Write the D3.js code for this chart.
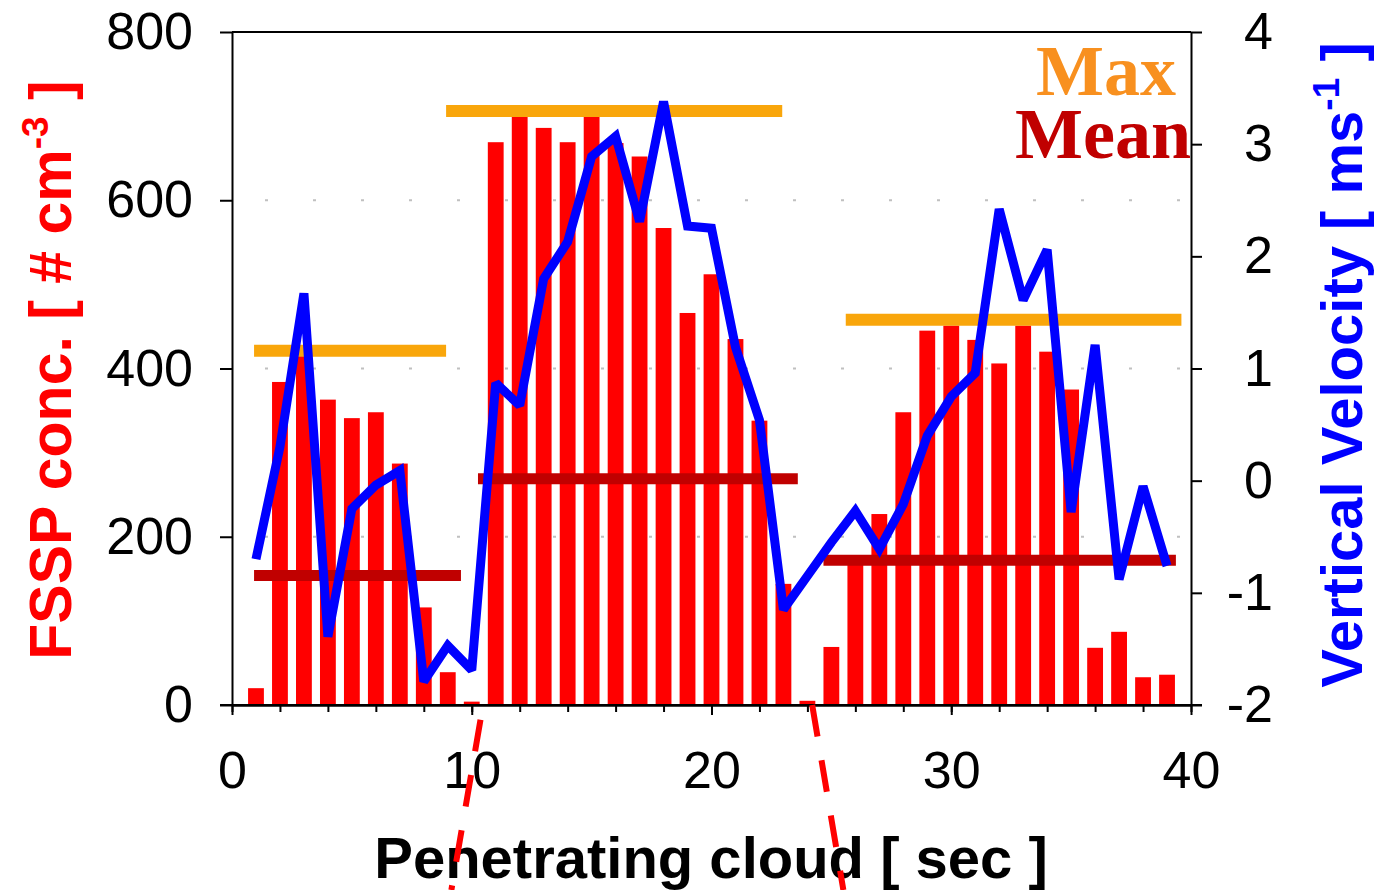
<!DOCTYPE html>
<html>
<head>
<meta charset="utf-8">
<script src="https://cdn.jsdelivr.net/npm/d3@7"></script>
<style>
body { margin: 0; background: #fff; }
svg { display: block; }
</style>
</head>
<body>
<svg id="chart" width="1375" height="890"></svg>
<script>
// seconds into the cloud
const seconds = [1, 2, 3, 4, 5, 6, 7, 8, 9, 10, 11, 12, 13, 14, 15, 16, 17, 18, 19, 20,
  21, 22, 23, 24, 25, 26, 27, 28, 29, 30, 31, 32, 33, 34, 35, 36, 37, 38, 39];

// FSSP concentration (# cm-3), bars
const fssp = [20, 384, 418, 363, 341, 348, 287, 116, 39, 4, 669, 700, 686, 669, 700, 668, 652, 567, 466, 512,
  435, 338, 144, 5, 69, 174, 227, 348, 445, 451, 434, 406, 451, 420, 375, 68, 87, 33, 36];

// vertical velocity (m/s), line
const velocity = [-0.70, 0.30, 1.67, -1.39, -0.25, -0.04, 0.09, -1.79, -1.47, -1.69, 0.87, 0.67, 1.80, 2.13, 2.89, 3.07, 2.31, 3.38, 2.27, 2.25,
  1.19, 0.54, -1.15, -0.85, -0.55, -0.27, -0.61, -0.21, 0.40, 0.75, 0.96, 2.42, 1.61, 2.06, -0.28, 1.21, -0.88, -0.05, -0.76];

// max / mean per cloud section
const maxValue = [421, 706, 458];
const maxFrom = [0.92, 8.93, 25.6];
const maxTo = [8.93, 22.95, 39.6];
const meanValue = [154, 269, 172];
const meanFrom = [0.92, 10.26, 24.67];
const meanTo = [9.55, 23.6, 39.37];

// dashed connectors (seconds at the axis, seconds at the bottom edge)
const linkTop = [10.47, 24.2];
const linkBottom = [9.15, 25.5];

const leftTicks = [0, 200, 400, 600, 800];
const gridTicks = [200, 400, 600];
const rightTicks = [-2, -1, 0, 1, 2, 3, 4];
const xMajor = [0, 10, 20, 30, 40];
const xMinor = [0, 2, 4, 6, 8, 10, 12, 14, 16, 18, 20, 22, 24, 26, 28, 30, 32, 34, 36, 38, 40];

const W = 1375, H = 890;
const margin = { top: 32, right: 184, bottom: 185, left: 232 };
const width = W - margin.left - margin.right;
const height = H - margin.top - margin.bottom;

const svg = d3.select("#chart");
const g = svg.append("g").attr("transform", `translate(${margin.left},${margin.top})`);

const x = d3.scaleLinear().domain([0, 40]).range([0, width]);
const yL = d3.scaleLinear().domain([0, 800]).range([height, 0]);
const yR = d3.scaleLinear().domain([-2, 4]).range([height, 0]);

// dotted grid
g.selectAll(".grid")
  .data(gridTicks)
  .enter()
  .append("line")
  .attr("x1", 0)
  .attr("x2", width)
  .attr("y1", d => yL(d))
  .attr("y2", d => yL(d))
  .attr("stroke", "#c0c0c0")
  .attr("stroke-width", 2)
  .attr("stroke-dasharray", "3,45")
  .attr("stroke-dashoffset", 15);

// bars
const barW = x(1) - x(0);
g.selectAll(".bar")
  .data(seconds)
  .enter()
  .append("rect")
  .attr("x", d => x(d) - barW * 0.33)
  .attr("y", (d, i) => yL(fssp[i]))
  .attr("width", barW * 0.66)
  .attr("height", (d, i) => height - yL(fssp[i]))
  .attr("fill", "#ff0000");

// max lines
g.selectAll(".maxline")
  .data(maxValue)
  .enter()
  .append("line")
  .attr("x1", (d, i) => x(maxFrom[i]))
  .attr("x2", (d, i) => x(maxTo[i]))
  .attr("y1", d => yL(d))
  .attr("y2", d => yL(d))
  .attr("stroke", "#f9a60b")
  .attr("stroke-width", 12);

// mean lines
g.selectAll(".meanline")
  .data(meanValue)
  .enter()
  .append("line")
  .attr("x1", (d, i) => x(meanFrom[i]))
  .attr("x2", (d, i) => x(meanTo[i]))
  .attr("y1", d => yL(d))
  .attr("y2", d => yL(d))
  .attr("stroke", "#c00000")
  .attr("stroke-width", 11);

// velocity line
const line = d3.line()
  .x((d, i) => x(seconds[i]))
  .y(d => yR(d));

g.append("path")
  .datum(velocity)
  .attr("d", line)
  .attr("fill", "none")
  .attr("stroke", "#0000ff")
  .attr("stroke-width", 9)
  .attr("stroke-linejoin", "miter")
  .attr("stroke-miterlimit", 2);

// frame top
g.append("line")
  .attr("x1", 0).attr("x2", width)
  .attr("y1", 0).attr("y2", 0)
  .attr("stroke", "#000").attr("stroke-width", 2);

// axes
const tickFont = "'Liberation Sans', Arial, sans-serif";
const plainNum = d => String(d);

const leftAxis = g.append("g")
  .call(d3.axisLeft(yL).tickValues(leftTicks).tickSize(12).tickSizeOuter(0).tickPadding(27).tickFormat(plainNum));

const rightAxis = g.append("g")
  .attr("transform", `translate(${width},0)`)
  .call(d3.axisRight(yR).tickValues(rightTicks).tickSize(11).tickSizeOuter(0).tickPadding(10).tickFormat(plainNum));
rightAxis.selectAll("text")
  .attr("text-anchor", "end")
  .attr("x", 82);

const minorAxis = g.append("g")
  .attr("transform", `translate(0,${height})`)
  .call(d3.axisBottom(x).tickValues(xMinor).tickSize(7).tickSizeOuter(0).tickFormat(""));

const bottomAxis = g.append("g")
  .attr("transform", `translate(0,${height})`)
  .call(d3.axisBottom(x).tickValues(xMajor).tickSize(10).tickSizeOuter(0).tickPadding(36).tickFormat(plainNum));

// extend bottom line to the outer ticks
g.append("line")
  .attr("x1", -12).attr("x2", width + 11)
  .attr("y1", height).attr("y2", height)
  .attr("stroke", "#000").attr("stroke-width", 2);

[leftAxis, rightAxis, minorAxis, bottomAxis].forEach(a => {
  a.selectAll("path.domain").attr("stroke", "#000").attr("stroke-width", 2);
  a.selectAll("line").attr("stroke", "#000").attr("stroke-width", 2);
  a.selectAll("text")
    .attr("fill", "#000")
    .style("font-family", tickFont)
    .style("font-size", "52px");
});

// axis titles
const leftTitle = svg.append("text")
  .attr("transform", "translate(71,370) rotate(-90)")
  .attr("text-anchor", "middle")
  .style("font-family", tickFont)
  .style("font-weight", "bold")
  .style("font-size", "59px")
  .attr("fill", "#ff0000");
leftTitle.append("tspan").text("FSSP conc. [ # cm");
leftTitle.append("tspan").attr("dy", -23).style("font-size", "37px").text("-3");
leftTitle.append("tspan").attr("dy", 23).text(" ]");

const rightTitle = svg.append("text")
  .attr("transform", "translate(1362,365) rotate(-90)")
  .attr("text-anchor", "middle")
  .style("font-family", tickFont)
  .style("font-weight", "bold")
  .style("font-size", "58px")
  .attr("fill", "#0000ff");
rightTitle.append("tspan").text("Vertical Velocity [ ms");
rightTitle.append("tspan").attr("dy", -23).style("font-size", "37px").text("-1");
rightTitle.append("tspan").attr("dy", 23).text(" ]");

svg.append("text")
  .attr("x", 711)
  .attr("y", 878)
  .attr("text-anchor", "middle")
  .style("font-family", tickFont)
  .style("font-weight", "bold")
  .style("font-size", "58px")
  .attr("fill", "#000")
  .text("Penetrating cloud [ sec ]");

// legend words
svg.append("text")
  .attr("x", 1176)
  .attr("y", 95)
  .attr("text-anchor", "end")
  .style("font-family", "'Liberation Serif', 'Times New Roman', serif")
  .style("font-weight", "bold")
  .style("font-size", "72px")
  .attr("fill", "#f8901f")
  .text("Max");

svg.append("text")
  .attr("x", 1191)
  .attr("y", 158)
  .attr("text-anchor", "end")
  .style("font-family", "'Liberation Serif', 'Times New Roman', serif")
  .style("font-weight", "bold")
  .style("font-size", "72px")
  .attr("fill", "#c00000")
  .text("Mean");

// dashed connectors to the panel below
const offsets = [41, 0];
svg.selectAll(".link")
  .data(linkTop)
  .enter()
  .append("line")
  .attr("x1", d => margin.left + x(d))
  .attr("y1", margin.top + yL(0))
  .attr("x2", (d, i) => margin.left + x(linkBottom[i]))
  .attr("y2", H)
  .attr("stroke", "#ff0000")
  .attr("stroke-width", 6)
  .attr("stroke-dasharray", "32,24")
  .attr("stroke-dashoffset", (d, i) => offsets[i]);
</script>
</body>
</html>
